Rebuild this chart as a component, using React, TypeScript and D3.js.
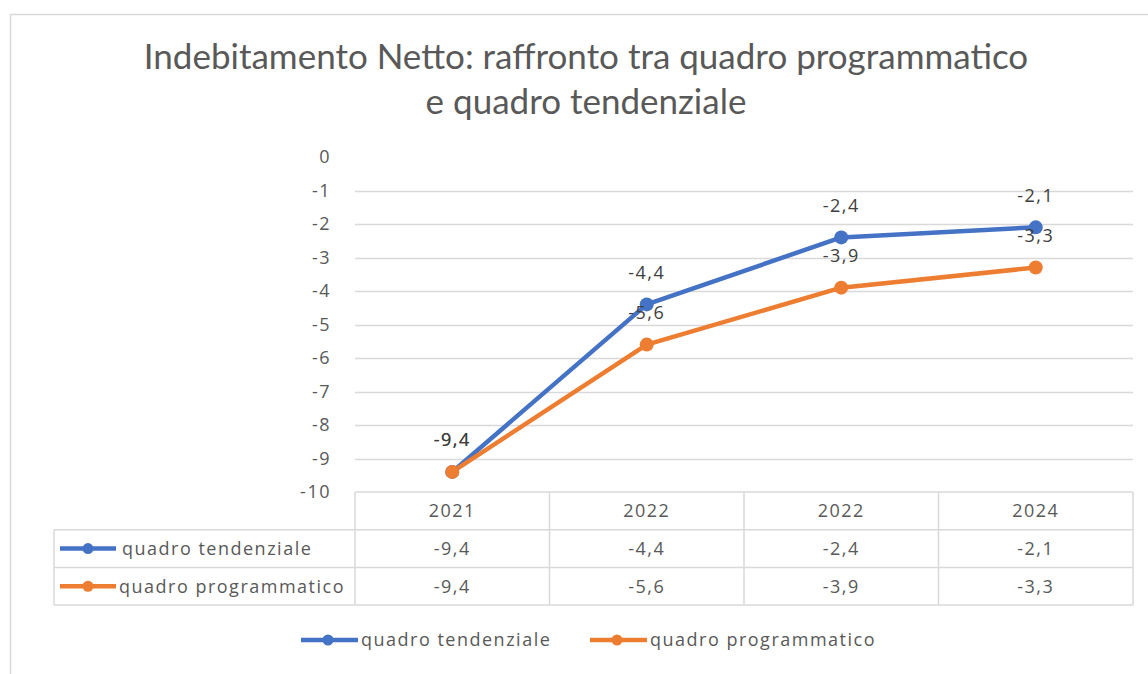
import React, { useRef, useEffect } from "react";
import * as d3 from "d3";

// Indebitamento netto: quadro tendenziale vs programmatico

const categories = ["2021", "2022", "2022", "2024"];
const tendenziale = [-9.4, -4.4, -2.4, -2.1];
const programmatico = [-9.4, -5.6, -3.9, -3.3];
const yTicks = [0, -1, -2, -3, -4, -5, -6, -7, -8, -9, -10];
const seriesNames = ["quadro tendenziale", "quadro programmatico"];
const titleLines = [
  "Indebitamento Netto: raffronto tra quadro programmatico",
  "e quadro tendenziale",
];

const W = 1148, H = 674;
const plot = { left: 355, right: 1133, top: 157, bottom: 492 };
const rowH = 37.7;
const colors = ["#4472C4", "#ED7D31"];
const textColor = "#595959";
const gridColor = "#d9d9d9";
const font = "'Open Sans', 'Noto Sans', sans-serif";
const fs = 18;
const ls = 1.5;

const fmt = (v: number) => String(v).replace(".", ",");

export default function App() {
  const svgRef = useRef<SVGSVGElement>(null);

  useEffect(() => {
    const svg = d3.select(svgRef.current);
    svg.selectAll("*").remove();

    const x = d3.scaleBand<number>()
      .domain(d3.range(categories.length))
      .range([plot.left, plot.right]);
    const y = d3.scaleLinear().domain([-10, 0]).range([plot.bottom, plot.top]);
    const cx = (i: number) => x(i)! + x.bandwidth() / 2;

    const bodyText = (g: any) => g
      .attr("font-family", font).attr("font-size", fs)
      .attr("letter-spacing", ls)
      .attr("dy", "0.35em");

    // outer frame
    svg.append("rect")
      .attr("x", 10.5).attr("y", 14.5)
      .attr("width", W).attr("height", H)
      .attr("fill", "#fff").attr("stroke", "#d9d9d9").attr("stroke-width", 1.5);

    // title
    svg.append("g").selectAll("text").data(titleLines).join("text")
      .attr("x", 586).attr("y", (_, i) => 69 + i * 45)
      .attr("text-anchor", "middle")
      .attr("font-family", "Lato, sans-serif")
      .attr("font-size", 35)
      .attr("fill", textColor)
      .text(d => d);

    // gridlines (no line at 0, -10 is table top)
    svg.append("g").selectAll("line").data(yTicks.filter(t => t !== 0 && t !== -10)).join("line")
      .attr("x1", plot.left).attr("x2", plot.right)
      .attr("y1", d => Math.round(y(d)) + 0.5).attr("y2", d => Math.round(y(d)) + 0.5)
      .attr("stroke", gridColor).attr("stroke-width", 1.5);

    // y tick labels
    svg.append("g").selectAll("text").data(yTicks).join("text")
      .attr("x", 331).attr("y", d => y(d))
      .call(bodyText)
      .attr("text-anchor", "end")
      .attr("fill", textColor)
      .text(d => String(d));

    // data table
    const tbl = svg.append("g").attr("stroke", gridColor).attr("stroke-width", 1.5).attr("fill", "none");
    const rows = [plot.bottom, plot.bottom + rowH, plot.bottom + rowH * 2, plot.bottom + rowH * 3];
    tbl.append("line").attr("x1", plot.left).attr("x2", plot.right).attr("y1", rows[0]).attr("y2", rows[0]);
    [rows[1], rows[2], rows[3]].forEach(r =>
      tbl.append("line").attr("x1", 54).attr("x2", plot.right).attr("y1", r).attr("y2", r));
    tbl.append("line").attr("x1", 54).attr("x2", 54).attr("y1", rows[1]).attr("y2", rows[3]);
    d3.range(categories.length + 1).forEach(i => {
      const xx = plot.left + i * x.bandwidth();
      tbl.append("line").attr("x1", xx).attr("x2", xx).attr("y1", rows[0]).attr("y2", rows[3]);
    });

    svg.append("g").selectAll("text").data(categories).join("text")
      .attr("x", (_, i) => cx(i))
      .attr("y", rows[0] + rowH / 2)
      .call(bodyText)
      .attr("text-anchor", "middle")
      .attr("fill", textColor)
      .text(d => d);

    [tendenziale, programmatico].forEach((vals, s) => {
      const cy = rows[s + 1] + rowH / 2;
      svg.append("g").selectAll("text").data(vals).join("text")
        .attr("x", (_, i) => cx(i))
        .attr("y", cy)
        .call(bodyText)
        .attr("text-anchor", "middle")
        .attr("fill", textColor)
        .text(d => fmt(d));
      // legend key inside table
      const k = svg.append("g");
      k.append("line").attr("x1", 60).attr("x2", 116).attr("y1", cy).attr("y2", cy)
        .attr("stroke", colors[s]).attr("stroke-width", 4.5);
      k.append("circle").attr("cx", 88).attr("cy", cy).attr("r", 5.5).attr("fill", colors[s]);
      k.append("text").attr("x", s === 0 ? 122 : 119).attr("y", cy)
        .call(bodyText)
        .attr("fill", textColor)
        .text(seriesNames[s]);
    });

    // lines, markers, labels
    const lineGen = d3.line<number>()
      .x((_, i) => cx(i))
      .y(d => y(d));

    [tendenziale, programmatico].forEach((vals, s) => {
      svg.append("path")
        .datum(vals)
        .attr("d", lineGen)
        .attr("fill", "none")
        .attr("stroke", colors[s])
        .attr("stroke-width", 4.5)
        .attr("stroke-linejoin", "round");
    });
    [tendenziale, programmatico].forEach((vals, s) => {
      svg.append("g").selectAll("circle").data(vals).join("circle")
        .attr("cx", (_, i) => cx(i))
        .attr("cy", d => y(d))
        .attr("r", 7)
        .attr("fill", colors[s]);
    });
    [tendenziale, programmatico].forEach((vals) => {
      svg.append("g").selectAll("text").data(vals).join("text")
        .attr("x", (_, i) => cx(i))
        .attr("y", d => y(d) - 32)
        .call(bodyText)
        .attr("text-anchor", "middle")
        .attr("fill", "#404040")
        .text(d => fmt(d));
    });

    // bottom legend
    const legendX = [301, 590];
    seriesNames.forEach((name, s) => {
      const g = svg.append("g").attr("transform", `translate(${legendX[s]},640)`);
      g.append("line").attr("x1", 0).attr("x2", 57).attr("y1", 0).attr("y2", 0)
        .attr("stroke", colors[s]).attr("stroke-width", 4.5);
      g.append("circle").attr("cx", 27).attr("cy", 0).attr("r", 5.5).attr("fill", colors[s]);
      g.append("text").attr("x", 60).attr("y", 0)
        .call(bodyText)
        .attr("fill", textColor)
        .text(name);
    });
  }, []);

  return (
    <svg ref={svgRef} width={W} height={H}
      style={{ position: "absolute", left: 0, top: 0, background: "#fff" }} />
  );
}
